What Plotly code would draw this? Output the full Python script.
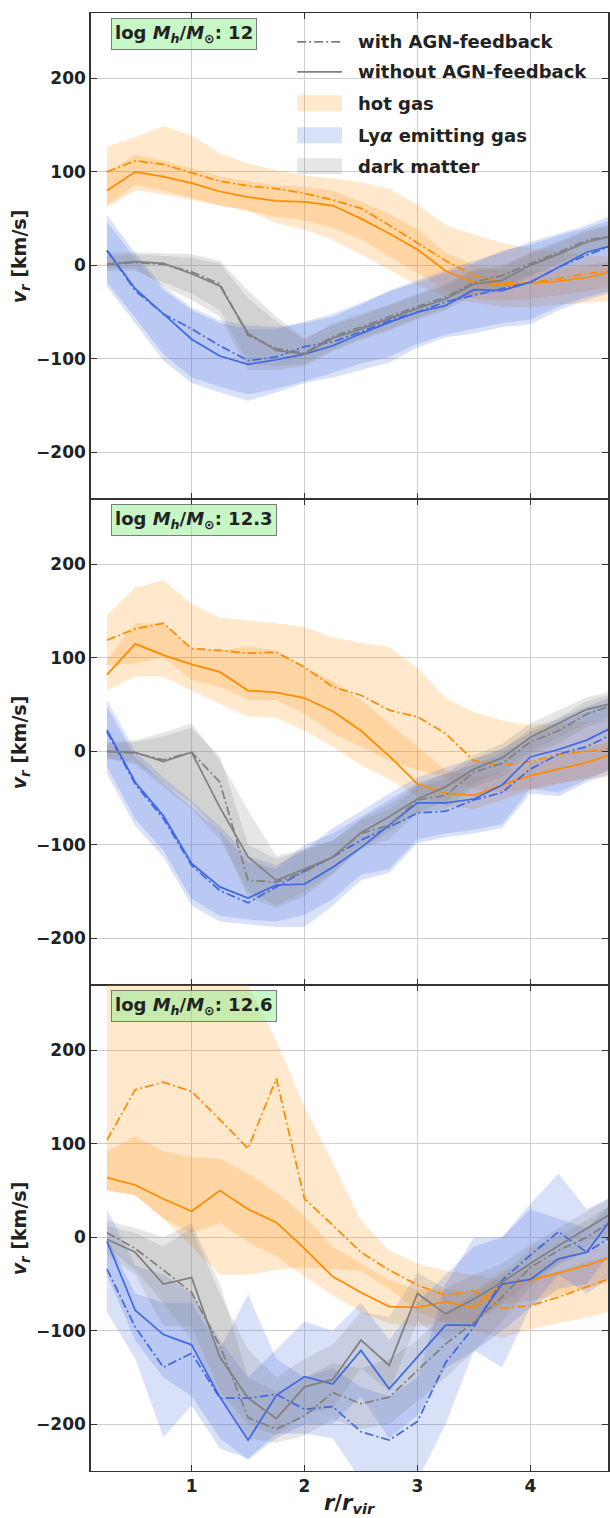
import plotly.graph_objects as go
from plotly.subplots import make_subplots

# ---------------- data ----------------
r = [0.25, 0.5, 0.75, 1.0, 1.25, 1.5, 1.75, 2.0, 2.25, 2.5, 2.75, 3.0, 3.25, 3.5, 3.75, 4.0, 4.25, 4.5, 4.75]
mass_labels = ["12", "12.3", "12.6"]
x_ticks = [1, 2, 3, 4]
y_ticks = [-200, -100, 0, 100, 200]

# ---- log Mh = 12 ----
hot_agn_12 = [100, 112, 108, 99, 90, 85, 82, 77, 70, 61, 43, 24, 5, -11, -18, -19, -14, -9, -5]
hot_agn_12_hi = [127, 137, 149, 139, 120, 109, 102, 96, 93, 89, 82, 65, 43, 33, 24, 18, 14, 11, 9]
hot_agn_12_lo = [62, 80, 76, 70, 64, 59, 45, 38, 27, 12, -5, -21, -34, -40, -44, -45, -42, -40, -38]
hot_noagn_12 = [80, 100, 95, 88, 79, 73, 69, 68, 64, 50, 34, 17, -6, -18, -21, -19, -17, -13, -6]
hot_noagn_12_hi = [100, 118, 112, 104, 95, 90, 86, 84, 80, 68, 55, 38, 14, 0, -5, -5, -3, 0, 5]
hot_noagn_12_lo = [64, 86, 80, 72, 64, 58, 52, 48, 40, 28, 10, -8, -26, -36, -38, -36, -32, -28, -22]

lya_agn_12 = [16, -27, -52, -68, -86, -102, -98, -87, -82, -71, -59, -50, -39, -32, -25, -18, -2, 11, 22]
lya_agn_12_hi = [46, 8, -26, -48, -62, -68, -68, -60, -52, -40, -28, -18, -8, 2, 16, 22, 32, 40, 50]
lya_agn_12_lo = [-18, -56, -95, -120, -130, -138, -132, -124, -115, -105, -98, -84, -74, -68, -62, -58, -44, -34, -26]
lya_noagn_12 = [16, -25, -52, -79, -97, -106, -101, -95, -86, -73, -61, -50, -43, -26, -27, -18, -2, 14, 22]
lya_noagn_12_hi = [54, 13, -23, -45, -59, -64, -66, -62, -55, -42, -27, -16, -5, 5, 14, 25, 34, 43, 55]
lya_noagn_12_lo = [-23, -62, -102, -126, -136, -145, -136, -126, -120, -112, -104, -88, -77, -73, -66, -63, -48, -37, -28]

dm_agn_12 = [1, 3, 1, -7, -20, -75, -89, -94, -76, -66, -55, -44, -34, -18, -11, 2, 14, 27, 32]
dm_agn_12_hi = [10, 12, 10, 8, 2, -35, -60, -80, -62, -52, -42, -30, -20, -4, 0, 14, 26, 38, 45]
dm_agn_12_lo = [-6, -6, -18, -30, -48, -105, -108, -106, -90, -78, -68, -56, -46, -30, -24, -10, 2, 15, 22]
dm_noagn_12 = [1, 4, 2, -9, -22, -73, -91, -95, -78, -68, -57, -46, -36, -20, -16, 0, 12, 25, 32]
dm_noagn_12_hi = [14, 14, 13, 12, 5, -27, -55, -78, -64, -54, -43, -32, -22, -6, -2, 12, 24, 36, 44]
dm_noagn_12_lo = [-3, -3, -23, -37, -55, -112, -112, -108, -92, -80, -70, -58, -48, -32, -28, -12, 0, 13, 20]

# ---- log Mh = 12.3 ----
hot_agn_123 = [119, 131, 137, 110, 108, 105, 106, 90, 69, 60, 44, 37, 19, -10, -15, -11, -3, 0, 3]
hot_agn_123_hi = [146, 175, 183, 158, 143, 140, 137, 133, 122, 116, 112, 89, 57, 42, 33, 28, 30, 32, 35]
hot_agn_123_lo = [92, 94, 101, 76, 69, 55, 55, 40, 20, 5, -10, -20, -28, -40, -44, -40, -34, -30, -26]
hot_noagn_123 = [82, 115, 103, 93, 85, 65, 63, 57, 43, 22, -5, -35, -45, -47, -36, -26, -19, -12, -2]
hot_noagn_123_hi = [98, 137, 137, 110, 108, 112, 108, 90, 75, 55, 30, 5, -20, -28, -22, -12, -4, 4, 12]
hot_noagn_123_lo = [65, 80, 80, 65, 51, 37, 36, 22, 5, -15, -30, -48, -58, -62, -52, -42, -35, -28, -18]

lya_agn_123 = [21, -35, -72, -122, -149, -162, -145, -128, -113, -95, -81, -66, -64, -52, -44, -19, -3, 5, 20]
lya_agn_123_hi = [48, -6, -34, -60, -86, -118, -126, -100, -88, -70, -52, -34, -24, -14, -2, 14, 30, 42, 55]
lya_agn_123_lo = [-16, -72, -106, -158, -176, -180, -182, -175, -158, -132, -126, -94, -88, -84, -78, -40, -44, -30, -18]
lya_noagn_123 = [23, -33, -69, -120, -145, -157, -143, -142, -124, -103, -79, -55, -55, -51, -36, -6, 2, 12, 27]
lya_noagn_123_hi = [55, 0, -28, -53, -80, -112, -122, -106, -82, -64, -45, -28, -17, -8, 3, 20, 35, 48, 60]
lya_noagn_123_lo = [-24, -80, -113, -165, -182, -185, -188, -188, -165, -138, -130, -98, -92, -88, -82, -45, -48, -33, -22]

dm_agn_123 = [0, -2, -9, -1, -33, -138, -140, -129, -113, -88, -79, -52, -47, -22, -13, 10, 22, 40, 50]
dm_agn_123_hi = [8, 10, 16, 25, -5, -100, -115, -106, -96, -74, -62, -38, -30, -8, 2, 24, 36, 54, 62]
dm_agn_123_lo = [-7, -12, -34, -55, -88, -156, -168, -155, -132, -104, -94, -66, -62, -38, -28, -4, 8, 26, 36]
dm_noagn_123 = [0, -1, -11, -1, -60, -113, -138, -126, -113, -87, -70, -51, -38, -19, -7, 15, 30, 45, 52]
dm_noagn_123_hi = [10, 12, 20, 30, -10, -63, -112, -104, -95, -72, -56, -36, -24, -4, 8, 30, 44, 58, 65]
dm_noagn_123_lo = [-8, -14, -38, -62, -94, -150, -165, -150, -130, -104, -86, -66, -54, -34, -22, 0, 15, 30, 38]

# ---- log Mh = 12.6 ----
hot_agn_126 = [104, 158, 166, 156, 126, 95, 170, 41, 13, -16, -35, -51, -62, -57, -76, -73, -64, -53, -42]
hot_agn_126_hi = [280, 280, 280, 280, 280, 270, 210, 140, 80, 18, -14, -28, -36, -40, -46, -44, -36, -26, -18]
hot_agn_126_lo = [50, 45, 20, -10, -40, -40, -35, -32, -34, -36, -55, -80, -92, -100, -108, -98, -92, -86, -78]
hot_noagn_126 = [64, 56, 41, 28, 50, 30, 16, -12, -42, -59, -74, -75, -69, -75, -50, -46, -38, -30, -20]
hot_noagn_126_hi = [92, 108, 92, 86, 84, 68, 48, 22, -10, -28, -46, -56, -56, -58, -36, -30, -22, -12, -4]
hot_noagn_126_lo = [50, 45, 20, 5, 15, -5, -20, -42, -62, -80, -92, -96, -90, -92, -72, -68, -62, -54, -46]

lya_agn_126 = [-34, -96, -139, -124, -172, -172, -168, -184, -181, -208, -217, -197, -134, -96, -46, -19, 6, -16, 3]
lya_agn_126_hi = [0, -60, -70, -70, -120, -61, -130, -150, -140, -160, -170, -150, -50, 0, 0, 36, 68, 30, 45]
lya_agn_126_lo = [-80, -130, -214, -180, -226, -237, -210, -210, -215, -260, -260, -260, -200, -121, -139, -75, -40, -60, -40]
lya_noagn_126 = [-4, -78, -104, -115, -171, -217, -169, -149, -157, -121, -162, -128, -94, -94, -50, -45, -23, -16, 25]
lya_noagn_126_hi = [30, -30, -40, -60, -110, -150, -120, -90, -100, -70, -110, -70, -40, -10, 0, 30, 20, 10, 40]
lya_noagn_126_lo = [-40, -110, -150, -170, -215, -238, -215, -200, -200, -170, -215, -190, -140, -122, -100, -75, -55, -50, -10]

dm_agn_126 = [5, -12, -35, -59, -116, -193, -205, -191, -166, -178, -171, -142, -114, -91, -64, -32, -14, 0, 20]
dm_agn_126_hi = [18, 10, 0, 15, -50, -150, -165, -150, -135, -140, -130, -110, -80, -60, -40, -12, 2, 18, 38]
dm_agn_126_lo = [-10, -35, -70, -110, -170, -215, -220, -212, -195, -205, -200, -175, -150, -122, -90, -52, -30, -15, 2]
dm_noagn_126 = [-2, -16, -50, -43, -128, -172, -194, -160, -152, -110, -137, -60, -82, -66, -48, -28, -9, 9, 28]
dm_noagn_126_hi = [12, 5, -10, 10, -60, -120, -150, -130, -115, -80, -85, -38, -55, -40, -28, -8, 10, 28, 45]
dm_noagn_126_lo = [-18, -40, -95, -95, -165, -200, -212, -190, -182, -140, -165, -90, -110, -90, -70, -48, -28, -10, 8]

# ---------------- styling ----------------
FONT = "DejaVu Sans"
TXT = "#222222"
AX = "#333333"
line_col = {"hot": "#ff8c00", "lya": "#4169e1", "dm": "#808080"}
fill_col = {"hot": "rgba(255,140,0,0.2)", "lya": "rgba(65,105,225,0.2)", "dm": "rgba(128,128,128,0.2)"}
DASHDOT = "9px,3px,2px,3px"

panels = [
    {"hot": [(hot_agn_12, hot_agn_12_lo, hot_agn_12_hi), (hot_noagn_12, hot_noagn_12_lo, hot_noagn_12_hi)],
     "lya": [(lya_agn_12, lya_agn_12_lo, lya_agn_12_hi), (lya_noagn_12, lya_noagn_12_lo, lya_noagn_12_hi)],
     "dm": [(dm_agn_12, dm_agn_12_lo, dm_agn_12_hi), (dm_noagn_12, dm_noagn_12_lo, dm_noagn_12_hi)]},
    {"hot": [(hot_agn_123, hot_agn_123_lo, hot_agn_123_hi), (hot_noagn_123, hot_noagn_123_lo, hot_noagn_123_hi)],
     "lya": [(lya_agn_123, lya_agn_123_lo, lya_agn_123_hi), (lya_noagn_123, lya_noagn_123_lo, lya_noagn_123_hi)],
     "dm": [(dm_agn_123, dm_agn_123_lo, dm_agn_123_hi), (dm_noagn_123, dm_noagn_123_lo, dm_noagn_123_hi)]},
    {"hot": [(hot_agn_126, hot_agn_126_lo, hot_agn_126_hi), (hot_noagn_126, hot_noagn_126_lo, hot_noagn_126_hi)],
     "lya": [(lya_agn_126, lya_agn_126_lo, lya_agn_126_hi), (lya_noagn_126, lya_noagn_126_lo, lya_noagn_126_hi)],
     "dm": [(dm_agn_126, dm_agn_126_lo, dm_agn_126_hi), (dm_noagn_126, dm_noagn_126_lo, dm_noagn_126_hi)]},
]

fig = make_subplots(rows=3, cols=1, shared_xaxes=True, vertical_spacing=0)

for i, p in enumerate(panels):
    row = i + 1
    for comp in ["hot", "lya", "dm"]:
        for (mid, lo, hi) in p[comp]:
            fig.add_trace(go.Scatter(
                x=r + r[::-1], y=hi + lo[::-1], mode="lines", fill="toself",
                fillcolor=fill_col[comp], line=dict(width=0), hoverinfo="skip",
                showlegend=False), row=row, col=1)
    for comp in ["hot", "lya", "dm"]:
        for k, (mid, lo, hi) in enumerate(p[comp]):
            fig.add_trace(go.Scatter(
                x=r, y=mid, mode="lines",
                line=dict(color=line_col[comp], width=1.75, dash=DASHDOT if k == 0 else "solid"),
                showlegend=False), row=row, col=1)

axis_common = dict(showline=True, linecolor=AX, mirror="ticks",
                   ticks="inside", ticklen=6, tickwidth=1.2, tickcolor=AX,
                   showgrid=True, gridcolor="#cfcfcf", gridwidth=1, zeroline=False,
                   tickfont=dict(family=FONT, size=17, color=TXT, weight="bold"))

for row in [1, 2, 3]:
    fig.update_xaxes(range=[0.1086, 4.688], tickvals=x_ticks, linewidth=1.1, **axis_common, row=row, col=1)
    fig.update_yaxes(range=[-250, 270], tickvals=y_ticks, linewidth=1.5, **axis_common, row=row, col=1)
fig.update_xaxes(showticklabels=True, row=3, col=1)

annotations = []
ydoms = ["y domain", "y2 domain", "y3 domain"]
xdoms = ["x domain", "x2 domain", "x3 domain"]
for i, m in enumerate(mass_labels):
    annotations.append(dict(
        xref=xdoms[i], yref=ydoms[i], x=0.0385, y=0.99, xanchor="left", yanchor="top",
        text="<b>log <i>M<sub>h</sub></i>/<i>M</i><sub>⊙</sub>: " + m + "</b>",
        showarrow=False, font=dict(family=FONT, size=18, color=TXT),
        bgcolor="rgba(144,238,144,0.5)", bordercolor="rgba(110,110,110,0.9)", borderwidth=1, borderpad=3))
    annotations.append(dict(
        xref="paper", x=-0.1368, xanchor="center", yref=ydoms[i], y=0.5, yanchor="middle",
        text="<b><i>v</i><sub><i>r</i></sub> [km/s]</b>", textangle=-90, showarrow=False,
        font=dict(family=FONT, size=19, color=TXT)))

annotations.append(dict(
    xref="paper", x=0.5, xanchor="center", yref="paper", y=-0.0125, yanchor="top",
    text="<b><i>r</i>/<i>r</i><sub><i>vir</i></sub></b>", showarrow=False,
    font=dict(family=FONT, size=21, color=TXT)))

# manual legend in the top panel
def lx(px):
    return (px - 91) / 519.0

def ly(py):
    return (498 - py) / 485.0

legend_items = [
    ("line", "with AGN-feedback", 41.7, DASHDOT, line_col["dm"]),
    ("line", "without AGN-feedback", 71.7, "solid", line_col["dm"]),
    ("patch", "hot gas", 103, None, fill_col["hot"]),
    ("patch", "Ly<i>α</i> emitting gas", 135, None, fill_col["lya"]),
    ("patch", "dark matter", 166, None, fill_col["dm"]),
]
shapes = []
for kind, label, yc, dash, col in legend_items:
    if kind == "line":
        shapes.append(dict(type="line", xref="x domain", yref="y domain",
                           x0=lx(298), x1=lx(343), y0=ly(yc), y1=ly(yc),
                           line=dict(color=col, width=1.75, dash=dash)))
    else:
        shapes.append(dict(type="rect", xref="x domain", yref="y domain",
                           x0=lx(298), x1=lx(343), y0=ly(yc + 8), y1=ly(yc - 8),
                           fillcolor=col, line=dict(width=0)))
    annotations.append(dict(xref="x domain", yref="y domain", x=lx(357), y=ly(yc),
                            xanchor="left", yanchor="middle", showarrow=False,
                            text="<b>" + label + "</b>",
                            font=dict(family=FONT, size=18, color=TXT)))

fig.update_layout(
    width=610, height=1518,
    margin=dict(l=91, r=0, t=13, b=47),
    paper_bgcolor="white", plot_bgcolor="white",
    showlegend=False,
    annotations=annotations, shapes=shapes,
    font=dict(family=FONT, color=TXT),
)

fig.write_html("out.html")
